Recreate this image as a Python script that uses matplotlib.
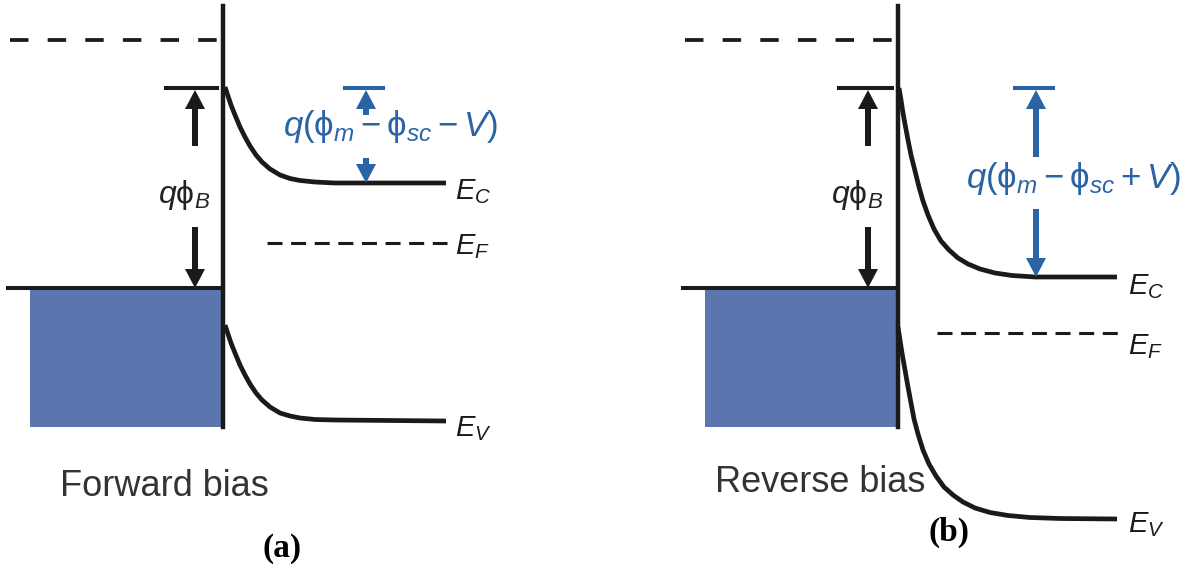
import matplotlib.pyplot as plt
from matplotlib.patches import Rectangle

plt.rcParams.update({
    'font.family': ['Liberation Sans', 'DejaVu Sans'],
    'mathtext.fontset': 'custom',
    'mathtext.rm': 'Liberation Sans',
    'mathtext.it': 'Liberation Sans:italic',
    'mathtext.bf': 'Liberation Sans:bold',
    'lines.scale_dashes': False,
})

BLACK = '#1a1a1a'
BLUE = '#2a63a6'
METAL = '#5b76ae'

# band edges in pixel units (y grows downwards)
# (a) forward bias
ec_a_x = [225, 228, 231, 235, 240, 245, 250, 256, 262, 270, 280, 290, 300, 315, 335, 446]
ec_a_y = [87, 96, 105, 115, 127, 137, 146, 155, 162, 169, 175, 178.5, 180.5, 182, 183, 183]
ev_a_x = [225, 228, 231, 235, 240, 245, 250, 256, 262, 270, 280, 290, 300, 315, 335, 446]
ev_a_y = [325, 334, 343, 353, 365, 375, 384, 393, 400, 407, 413, 416, 418, 419.5, 420, 421]
# (b) reverse bias
ec_b_x = [899, 901, 903, 905, 908, 911, 915, 919, 923, 928, 934, 941, 949, 958, 968, 980,
          995, 1012, 1035, 1117]
ec_b_y = [88, 100, 113, 124, 140, 155, 171, 187, 201, 215, 229, 241, 250, 258, 264, 269,
          273, 275.5, 277, 277]
ev_b_x = [898, 900, 902, 905, 908, 911, 914, 918, 923, 929, 936, 944, 953, 963, 975, 990,
          1008, 1030, 1060, 1117]
ev_b_y = [327, 340, 353, 370, 387, 403, 419, 434, 450, 464, 476, 487, 495, 502, 508, 512.5,
          515.5, 517.5, 518.5, 519]

# shared levels
interface_x = [223, 898]
vacuum_y = 40
barrier_y = 88
metal_ef_y = 288
metal_bottom_y = 427
line_left = [8, 683]
box_left = [30, 705]
semi_ef_y = [243, 333]
semi_ef_x = [(267, 447), (937, 1118)]
phib_x = [195, 868]
blue_x = [366, 1036]
blue_up_from = [115, 157]
blue_down_from = [158, 209]

label_x = [455, 1128]
ec_label_y = [199, 294]
ef_label_y = [254, 354]
ev_label_y = [436, 532]

fig = plt.figure(figsize=(11.96, 5.68), dpi=100)
ax = fig.add_axes([0, 0, 1, 1])
ax.set_xlim(0, 1196)
ax.set_ylim(568, 0)
ax.axis('off')


def arrow(x, y0, y1, color):
    ax.arrow(x, y0, 0, y1 - y0, width=6, head_width=20, head_length=19,
             length_includes_head=True, color=color, lw=0, zorder=4)


for i, (ecx, ecy, evx, evy) in enumerate([(ec_a_x, ec_a_y, ev_a_x, ev_a_y),
                                           (ec_b_x, ec_b_y, ev_b_x, ev_b_y)]):
    xi = interface_x[i]
    # metal side
    ax.add_patch(Rectangle((box_left[i], metal_ef_y), xi - box_left[i],
                           metal_bottom_y - metal_ef_y, color=METAL, lw=0))
    ax.plot([line_left[i], xi], [metal_ef_y, metal_ef_y], color=BLACK, lw=2.9)
    ax.plot([xi, xi], [6, metal_bottom_y], color=BLACK, lw=3.2, zorder=3)
    ax.plot([line_left[i] + 2, xi], [vacuum_y, vacuum_y], color=BLACK, lw=2.7,
            dashes=(13.3, 13.8))
    # barrier height
    ax.plot([phib_x[i] - 29, xi - 6], [barrier_y, barrier_y], color=BLACK, lw=2.9)
    arrow(phib_x[i], 146, barrier_y + 2, BLACK)
    arrow(phib_x[i], 227, metal_ef_y, BLACK)
    ax.text(phib_x[i] - 11, 203, r'$q\mathrm{\phi}_B$', fontsize=23,
            color='#222222', ha='center', va='baseline')
    # semiconductor bands
    ax.plot(ecx, ecy, color=BLACK, lw=3.4, solid_joinstyle='round',
            solid_capstyle='butt', zorder=3)
    ax.plot(evx, evy, color=BLACK, lw=3.4, solid_joinstyle='round',
            solid_capstyle='butt', zorder=3)
    ax.plot(semi_ef_x[i], [semi_ef_y[i]] * 2, color=BLACK, lw=2.2,
            dashes=(10.8, 6.2))
    for y, lab in zip([ec_label_y[i], ef_label_y[i], ev_label_y[i]],
                      [r'$E_C$', r'$E_F$', r'$E_V$']):
        ax.text(label_x[i], y, lab, fontsize=21, color=BLACK, va='baseline')
    # band bending under bias
    bx = blue_x[i]
    ax.plot([bx - 21, bx + 17], [barrier_y, barrier_y], color=BLUE, lw=2.9)
    arrow(bx, blue_up_from[i], barrier_y + 2, BLUE)
    arrow(bx, blue_down_from[i], ecy[-1], BLUE)

ax.text(283, 136, r'$q(\mathrm{\phi}_m - \mathrm{\phi}_{sc} - V)$', fontsize=25,
        color=BLUE, va='baseline')
ax.text(966, 188, r'$q(\mathrm{\phi}_m - \mathrm{\phi}_{sc} + V)$', fontsize=25,
        color=BLUE, va='baseline')

ax.text(60, 496, 'Forward bias', fontsize=26, color='#333333', va='baseline')
ax.text(715, 492, 'Reverse bias', fontsize=26, color='#333333', va='baseline')
ax.text(282, 549, '(a)', fontsize=24, fontweight='bold',
        family='Liberation Serif', ha='center', va='center')
ax.text(949, 532, '(b)', fontsize=24, fontweight='bold',
        family='Liberation Serif', ha='center', va='center')

fig.savefig('out.png', dpi=100)
